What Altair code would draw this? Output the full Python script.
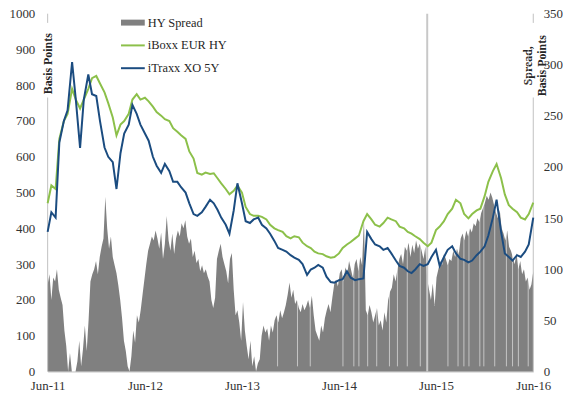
import altair as alt
import pandas as pd

# ---------------- data ----------------
# semi-monthly observations (1st and 15th), Jun-2011 .. Jun-2016, basis points (left axis)
iboxx_eur_hy = [
    470, 520, 510, 650, 700, 720, 790, 760, 735, 760,
    790, 820, 826, 805, 780, 750, 710, 660, 690, 700,
    720, 760, 775, 760, 765, 755, 740, 725, 715, 705,
    700, 680, 670, 660, 650, 615, 595, 555, 550, 556,
    552, 554, 540, 526, 510, 495, 505, 520, 500, 460,
    440, 435, 435, 432, 425, 410, 400, 395, 390, 378,
    372, 378, 375, 360, 350, 345, 335, 330, 328, 322,
    318, 320, 330, 345, 355, 362, 372, 380, 420, 440,
    425, 410, 405, 415, 430, 425, 420, 405, 400, 390,
    385, 378, 370, 360, 350, 360, 395, 405, 420, 440,
    455, 480, 470, 440, 428, 440, 450, 455, 490, 530,
    560, 580, 540, 495, 465, 455, 445, 430, 425, 440,
    472,
]
itraxx_xo_5y = [
    390, 445, 430, 640, 700, 730, 865, 760, 625, 760,
    830, 775, 770, 700, 626, 600, 585, 510, 610, 665,
    690, 745, 720, 690, 665, 645, 600, 575, 555, 580,
    560, 530, 530, 515, 500, 470, 440, 435, 445, 460,
    480, 470, 452, 430, 410, 385, 450, 526, 470, 420,
    415, 425, 430, 410, 400, 385, 365, 345, 340, 335,
    325, 318, 312, 300, 270, 285, 290, 298, 290, 265,
    250, 248, 255, 258, 280, 262, 255, 258, 260, 390,
    370, 355, 350, 340, 345, 330, 310, 295, 290, 280,
    275, 285, 300, 295, 300, 320, 340, 295, 320, 340,
    350, 330, 315, 312, 305, 310, 325, 335, 350, 380,
    430, 480, 390, 330, 320, 310, 325, 320, 335, 355,
    430,
]
# weekly HY spread, basis points (right axis)
hy_spread = [
    85, 95, 70, 92, 88, 100, 80, 72, 65, 40,
    25, 0, 18, 0, 0, 0, 10, 30, 5, 22,
    45, 20, 50, 88, 95, 100, 108, 95, 112, 122,
    130, 171, 140, 120, 132, 112, 104, 96, 84, 70,
    52, 30, 20, 5, 0, 15, 40, 28, 55, 48,
    60, 75, 90, 105, 118, 125, 132, 128, 138, 130,
    120, 136, 110, 125, 152, 128, 118, 135, 115, 130,
    138, 132, 145, 140, 148, 132, 125, 130, 112, 118,
    106, 110, 98, 104, 96, 100, 93, 88, 70, 62,
    72, 110, 118, 125, 112, 105, 98, 86, 110, 116,
    80, 55, 60, 48, 30, 68, 40, 25, 12, 30,
    5, 15, 0, 8, 12, 35, 45, 38, 42, 30,
    45, 38, 50, 55, 48, 60, 52, 58, 65, 75,
    87, 72, 80, 66, 70, 62, 58, 66, 60, 64,
    70, 62, 74, 55, 40, 35, 30, 45, 38, 52,
    60, 66, 58, 72, 85, 90, 83, 96, 100, 88,
    102, 95, 108, 100, 92, 105, 110, 98, 112, 104,
    150, 60, 55, 65, 58, 48, 55, 62, 45, 50,
    40, 58, 48, 70, 78, 82, 95, 88, 100, 110,
    115, 105, 122, 118, 126, 112, 124, 116, 128, 120,
    125, 118, 110, 122, 90, 80, 70, 86, 64, 92,
    100, 108, 104, 115, 110, 104, 110, 108, 118, 112,
    120, 115, 130, 135, 128, 138, 132, 140, 136, 145,
    142, 150, 146, 155, 160, 165, 172, 168, 175, 170,
    162, 155, 150, 158, 140, 135, 128, 138, 122, 118,
    112, 105, 116, 100, 108, 95, 100, 88, 92, 80,
    85, 98,
]
# days with missing spread data (thin light slits) and one outlier day
gap_dates = [
    "2013-10-13", "2013-12-27", "2014-02-13", "2014-06-16", "2014-07-27",
    "2014-08-15", "2014-09-17", "2014-10-21", "2014-12-08", "2015-01-07",
    "2015-02-13", "2015-04-03", "2015-07-16", "2015-08-23", "2015-09-14",
    "2015-10-03", "2015-11-13", "2015-11-28", "2016-01-08", "2016-02-21",
    "2016-03-15", "2016-04-06", "2016-05-13",
]
spike_dates = ["2015-04-29"]
tick_years = [2011, 2012, 2013, 2014, 2015, 2016]
left_ticks = list(range(0, 1001, 100))
right_ticks = list(range(0, 351, 50))
legend_labels = ["HY Spread", "iBoxx EUR HY", "iTraxx XO 5Y"]
series_names = ["iBoxx EUR HY", "iTraxx XO 5Y"]
series_colors = ["#8cc04a", "#1b4c80"]

# ---------------- tables ----------------
line_dates = pd.date_range("2011-06-01", "2016-06-01", freq="SMS")
spread_dates = pd.date_range("2011-06-01", periods=len(hy_spread), freq="7D")

lines_df = pd.DataFrame({
    "date": list(line_dates) * 2,
    "series": [series_names[0]] * len(iboxx_eur_hy) + [series_names[1]] * len(itraxx_xo_5y),
    "value": iboxx_eur_hy + itraxx_xo_5y,
})
spread_df = pd.DataFrame({"date": spread_dates, "spread": hy_spread})
gaps_df = pd.DataFrame({"date": pd.to_datetime(gap_dates)})
spike_df = pd.DataFrame({"date": pd.to_datetime(spike_dates)})
edges_df = pd.DataFrame({"date": [line_dates[0], line_dates[-1]]})
one = pd.DataFrame({"k": [0]})

FONT = "Liberation Serif"
W, H = 490, 361

x_enc = alt.X(
    "date:T",
    scale=alt.Scale(domain=[alt.DateTime(year=2011, month=6, date=1),
                            alt.DateTime(year=2016, month=6, date=1)]),
    axis=alt.Axis(values=[alt.DateTime(year=y, month=6, date=1) for y in tick_years],
                  format="%b-%y", title=None, ticks=False, grid=False,
                  domain=True, domainColor="#c0c0c0", labelPadding=8,
                  labelFlush=False, labelOverlap=False),
)

y_right = alt.Y(
    "spread:Q",
    scale=alt.Scale(domain=[0, 350], nice=False),
    axis=alt.Axis(orient="right", values=right_ticks, title=["Spread,", "Basis Points"],
                  format="d", ticks=False, domain=False, grid=False, labelPadding=10,
                  labelOverlap=False, labelFlush=False,
                  titleAngle=270, titleAlign="center", titleBaseline="middle",
                  titleX=-6, titleY=52),
)

area = alt.Chart(spread_df).mark_area(color="#808080", interpolate="linear").encode(
    x=x_enc, y=y_right)
slits = alt.Chart(gaps_df).mark_rule(color="white", opacity=0.55, strokeWidth=1).encode(
    x=x_enc, y=alt.datum(5), y2=alt.datum(350))
spike = alt.Chart(spike_df).mark_rule(color="#c8c8c8", strokeWidth=2).encode(
    x=x_enc, y=alt.datum(0), y2=alt.datum(350))
# vertical axis lines at both plot edges, broken where the axis titles sit
axis_low = alt.Chart(edges_df).mark_rule(color="#c0c0c0").encode(
    x=x_enc, y=alt.datum(0), y2=alt.datum(268))
axis_top = alt.Chart(edges_df).mark_rule(color="#c0c0c0").encode(
    x=x_enc, y=alt.datum(341), y2=alt.datum(350))
right_group = alt.layer(area, slits, spike, axis_low, axis_top)

y_left = alt.Y(
    "value:Q",
    scale=alt.Scale(domain=[0, 1000], nice=False),
    axis=alt.Axis(orient="left", values=left_ticks, title="Basis Points",
                  format="d", ticks=False, domain=False, grid=False, labelPadding=13,
                  labelOverlap=False, labelFlush=False,
                  titleAngle=270, titleAlign="center", titleBaseline="middle",
                  titleX=0, titleY=50),
)
lines = alt.Chart(lines_df).mark_line(strokeWidth=2).encode(
    x=x_enc, y=y_left,
    color=alt.Color("series:N", scale=alt.Scale(domain=series_names, range=series_colors),
                    legend=None),
    detail="series:N",
)

# legend (hand drawn, top left of the plot)
leg_rows = [9, 32, 55]
leg_items = []
leg_items.append(alt.Chart(one).mark_rule(color="#808080", strokeWidth=6).encode(
    x=alt.value(74), x2=alt.value(98), y=alt.value(leg_rows[0])))
leg_items.append(alt.Chart(one).mark_rule(color=series_colors[0], strokeWidth=2).encode(
    x=alt.value(74), x2=alt.value(98), y=alt.value(leg_rows[1])))
leg_items.append(alt.Chart(one).mark_rule(color=series_colors[1], strokeWidth=2).encode(
    x=alt.value(74), x2=alt.value(98), y=alt.value(leg_rows[2])))
for lab, yy in zip(legend_labels, leg_rows):
    leg_items.append(alt.Chart(one).mark_text(
        text=lab, font=FONT, fontSize=12.5, color="#262626", align="left", baseline="middle"
    ).encode(x=alt.value(101), y=alt.value(yy)))

chart = alt.layer(right_group, lines, *leg_items).resolve_scale(
    y="independent"
).properties(
    width=W, height=H,
    autosize=alt.AutoSizeParams(type="none"),
    padding={"left": 40, "top": 4, "right": 30, "bottom": 22},
).configure_view(stroke=None).configure_axis(
    labelFont=FONT, titleFont=FONT, labelFontSize=13, titleFontSize=12,
    labelColor="#333333", titleColor="#262626", titleFontWeight="bold",
)

chart.save("out.html", embed_options={"renderer": "svg", "actions": False})
